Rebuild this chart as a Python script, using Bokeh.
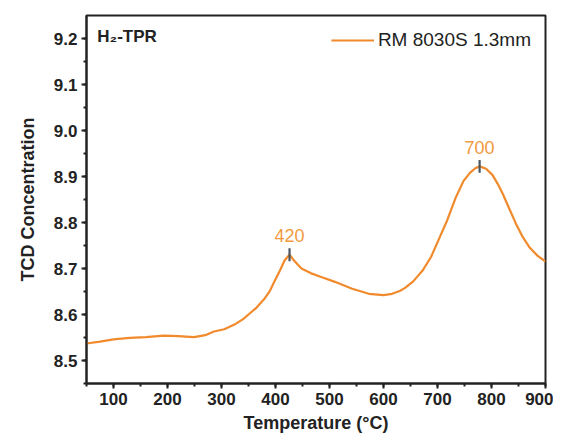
from bokeh.plotting import figure
from bokeh.models import (Range1d, SingleIntervalTicker, PrintfTickFormatter,
                          Label, ColumnDataSource, LabelSet)
from bokeh.core.properties import value
from bokeh.embed import file_html
from bokeh.resources import INLINE

# ---- data ----
temperature = [50, 75, 100, 130, 160, 193, 220, 249, 270, 286, 305, 324, 340,
               350, 365, 380, 390, 398, 408, 417, 426, 436, 448, 465, 486, 510,
               542, 573, 600, 616, 630, 640, 655, 672, 688, 703, 718, 733, 748,
               760, 770, 778, 790, 802, 812, 821, 833, 845, 858, 871, 885, 900]
tcd = [8.537, 8.541, 8.546, 8.549, 8.551, 8.554, 8.553, 8.551, 8.555, 8.563,
       8.568, 8.578, 8.590, 8.600, 8.615, 8.635, 8.652, 8.672, 8.695, 8.718,
       8.730, 8.715, 8.700, 8.690, 8.681, 8.671, 8.656, 8.645, 8.642, 8.645,
       8.651, 8.658, 8.672, 8.695, 8.725, 8.765, 8.805, 8.852, 8.890, 8.908,
       8.918, 8.922, 8.917, 8.903, 8.883, 8.862, 8.830, 8.798, 8.768, 8.745,
       8.728, 8.715]
peak_T = [426, 778]
peak_val = [8.730, 8.922]
peak_labels = ["420", "700"]
series_name = "RM 8030S 1.3mm"
panel_tag = "H\u2082-TPR"

ORANGE = "#F08A2C"
TXT = "#222222"
FONT = "Liberation Sans"

p = figure(width=553, height=437, output_backend="svg", toolbar_location=None,
           x_range=Range1d(50, 900), y_range=Range1d(8.45, 9.25),
           min_border_left=86, min_border_right=8, min_border_top=15,
           min_border_bottom=54)
p.background_fill_color = "white"
p.border_fill_color = "white"
p.grid.visible = False
p.outline_line_color = "#222222"
p.outline_line_width = 2

p.line(temperature, tcd, line_color=ORANGE, line_width=2.2,
       legend_label=series_name)

# peak markers
src = ColumnDataSource(dict(x=peak_T, y=peak_val, lab=peak_labels,
                            y0=[v - 0.014 for v in peak_val],
                            y1=[v + 0.014 for v in peak_val],
                            yl=[v + 0.042 for v in peak_val]))
p.segment(x0="x", y0="y0", x1="x", y1="y1", source=src,
          line_color="#4a5560", line_width=2.2)
p.add_layout(LabelSet(x="x", y="yl", text="lab", source=src,
                      text_align="center", text_baseline="middle",
                      text_color="#F29A40", text_font_size="18px",
                      text_font=value(FONT)))

p.add_layout(Label(x=70, y=9.204, text=panel_tag, text_font_size="17px",
                   text_font_style="bold", text_color=TXT,
                   text_font=FONT, text_baseline="middle"))

for ax in (p.xaxis[0], p.yaxis[0]):
    ax.axis_line_width = 2
    ax.axis_line_color = "#222222"
    ax.major_tick_line_width = 2
    ax.minor_tick_line_width = 2
    ax.major_tick_line_color = "#222222"
    ax.minor_tick_line_color = "#222222"
    ax.major_tick_out = 5
    ax.major_tick_in = 0
    ax.minor_tick_out = 3
    ax.minor_tick_in = 0
    ax.major_label_text_font = FONT
    ax.major_label_text_font_style = "bold"
    ax.major_label_text_font_size = "17px"
    ax.major_label_text_color = TXT
    ax.axis_label_text_font = FONT
    ax.axis_label_text_font_style = "bold"
    ax.axis_label_text_font_size = "18px"
    ax.axis_label_text_color = TXT

p.xaxis.ticker = SingleIntervalTicker(interval=100, num_minor_ticks=2)
p.yaxis.ticker = SingleIntervalTicker(interval=0.1, num_minor_ticks=2)
p.yaxis.formatter = PrintfTickFormatter(format="%.1f")
p.xaxis.axis_label = "Temperature (\u00b0C)"
p.yaxis.axis_label = "TCD Concentration"
p.xaxis.major_label_standoff = 4
p.xaxis.axis_label_standoff = 5
p.yaxis.major_label_standoff = 4
p.yaxis.axis_label_standoff = 13

lg = p.legend[0]
lg.location = "top_right"
lg.border_line_color = None
lg.background_fill_alpha = 0
lg.label_text_font = FONT
lg.label_text_font_size = "19px"
lg.label_text_color = TXT
lg.glyph_width = 43
lg.label_standoff = 4
lg.margin = 14
lg.padding = 7

open("out.html", "w").write(file_html(p, INLINE))
